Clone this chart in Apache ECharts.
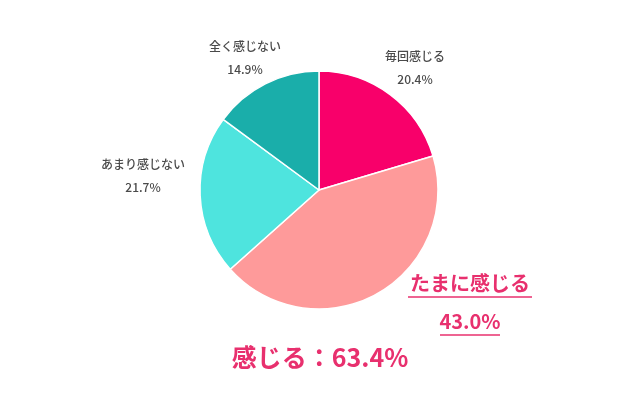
<!DOCTYPE html>
<html>
<head>
<meta charset="utf-8">
<script src="https://cdn.jsdelivr.net/npm/echarts@6/dist/echarts.min.js"></script>
<style>body{margin:0;background:#fff}</style>
</head>
<body>
<div id="main" style="width:640px;height:403px;"></div>
<script type="text/javascript">
var names = ['毎回感じる', 'たまに感じる', 'あまり感じない', '全く感じない'];
var values = [20.4, 43.0, 21.7, 14.9];
var colors = ['#f8006a', '#fe9a9a', '#4ee4de', '#1aaeaa'];
// ラベルの中心位置
var labelPos = [[415, 68], [470, 302], [143, 176], [245, 58]];

var feel = (values[0] + values[1]).toFixed(1);
var font = '"Noto Sans CJK JP", sans-serif';

var myChart = echarts.init(document.getElementById('main'));
var option = {
	animation: false,
	textStyle: { fontFamily: font },
	title: {
		text: '感じる：' + feel + '%',
		left: 'center', top: 340,
		textStyle: { fontSize: 25, fontWeight: 'bold', color: '#e8306e', fontFamily: font }
	},
	graphic: [
		{ type: 'line', shape: { x1: 408, y1: 297, x2: 532, y2: 297 }, style: { stroke: '#e8306e', lineWidth: 1.5 } },
		{ type: 'line', shape: { x1: 440, y1: 335, x2: 500, y2: 335 }, style: { stroke: '#e8306e', lineWidth: 1.5 } }
	],
	series: [{
		type: 'pie',
		center: [319, 190],
		radius: 119,
		startAngle: 90,
		clockwise: true,
		data: names.map(function (n, i) {
			var big = i === 1;
			return {
				name: n, value: values[i],
				itemStyle: { color: colors[i], borderColor: '#fff', borderWidth: 1.5 },
				label: {
					color: big ? '#e8306e' : '#4a4a4a',
					fontSize: big ? 20 : 12,
					fontWeight: big ? 'bold' : 500,
					lineHeight: big ? 38 : 23
				}
			};
		}),
		label: {
			position: 'outside',
			formatter: function (p) { return p.name + '\n' + p.value.toFixed(1) + '%'; },
			align: 'center'
		},
		labelLine: { show: false },
		labelLayout: function (p) {
			var q = labelPos[p.dataIndex];
			return { x: q[0], y: q[1], align: 'center', verticalAlign: 'middle' };
		}
	}]
};
myChart.setOption(option);
</script>
</body>
</html>
